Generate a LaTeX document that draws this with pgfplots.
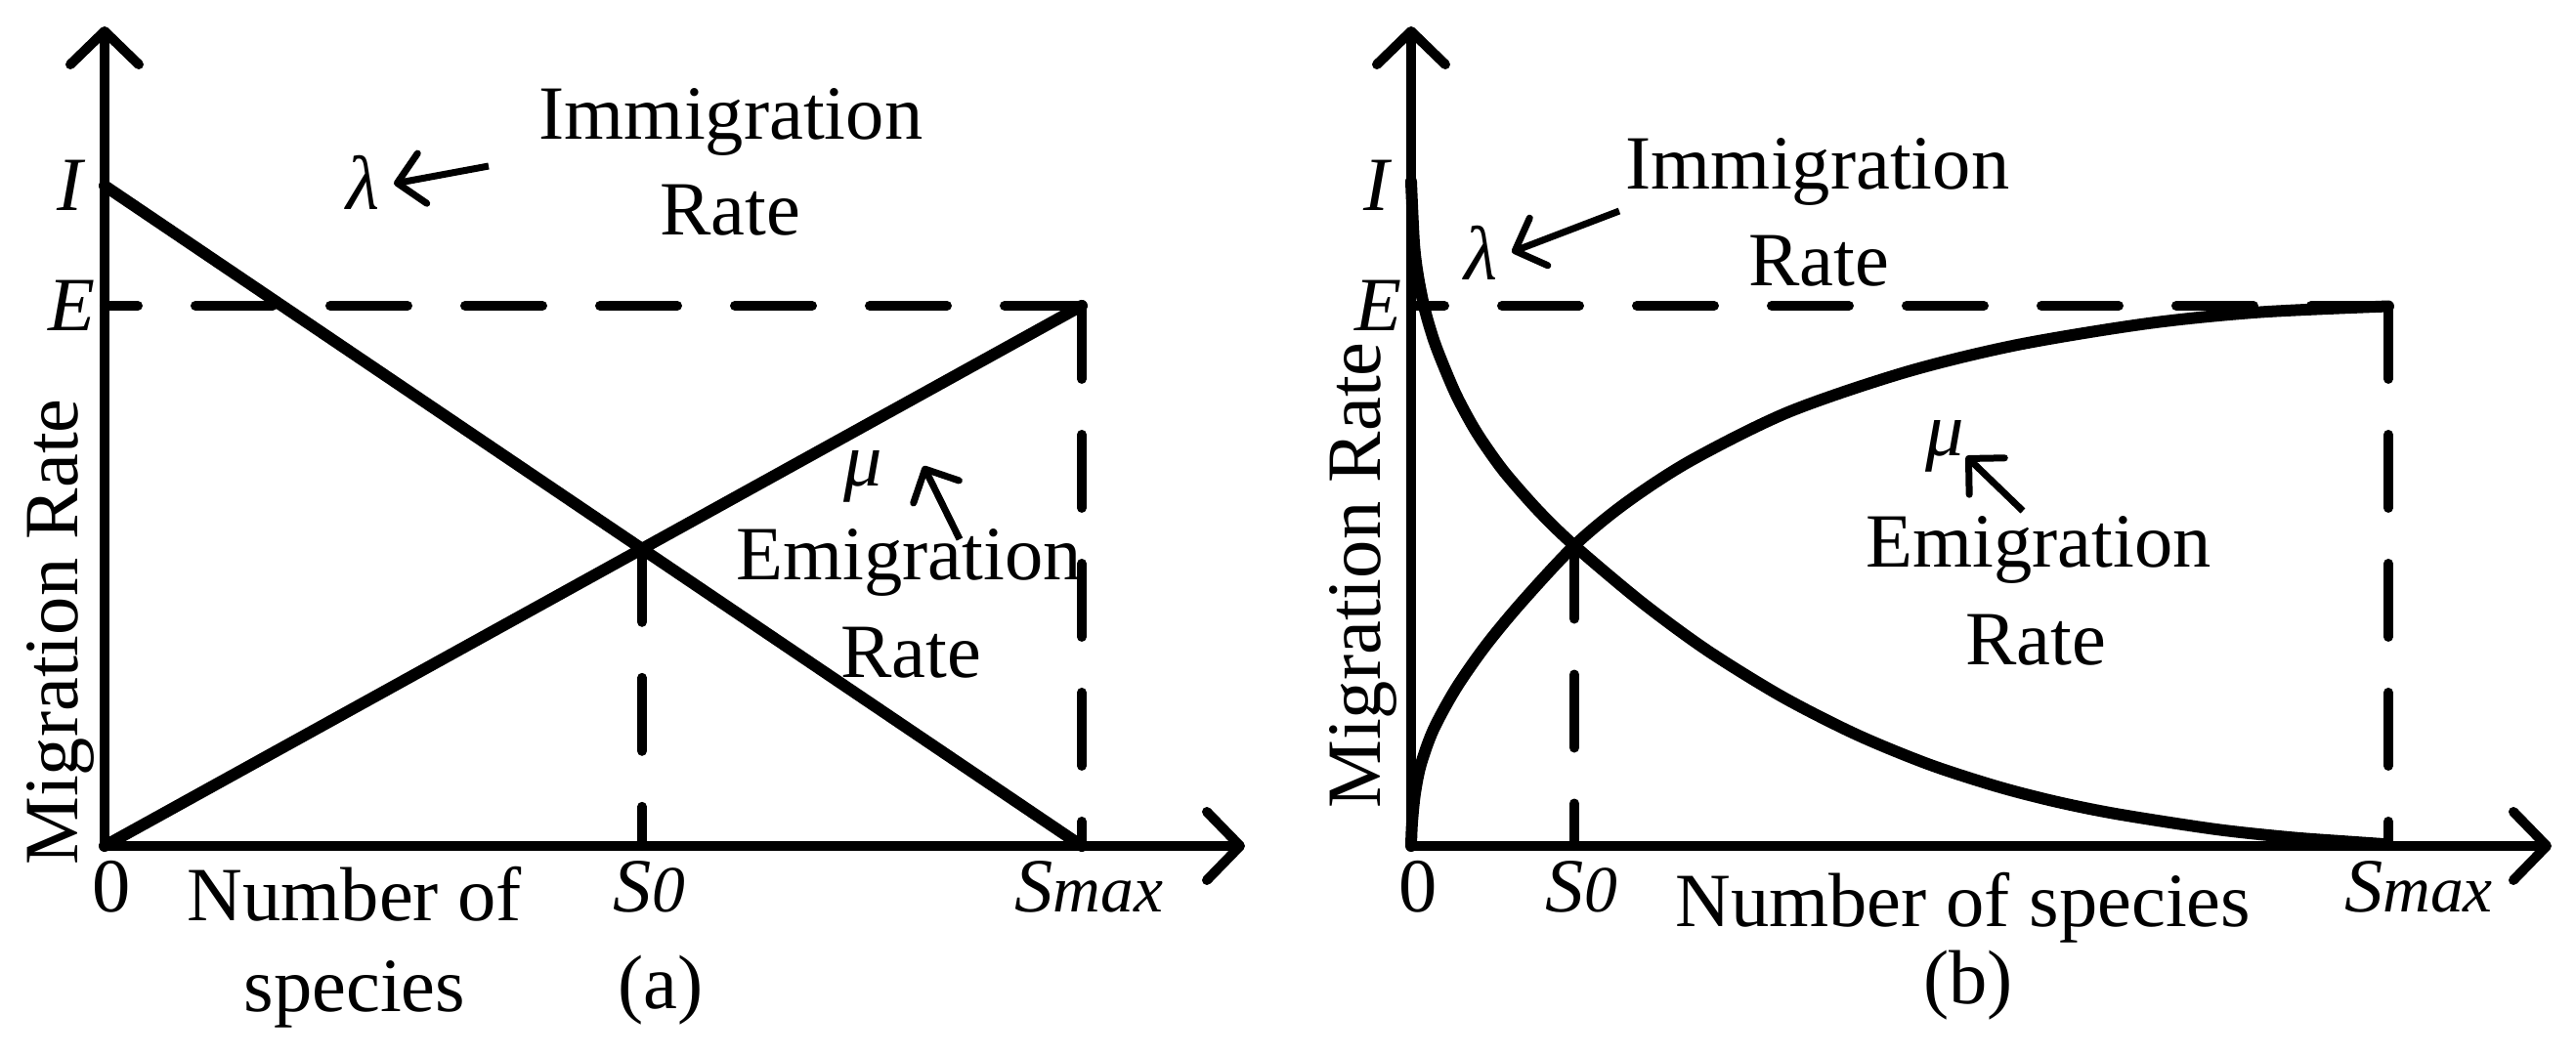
\documentclass[border=0pt]{standalone}
\usepackage{fontspec}
\setmainfont{Liberation Serif}
\usepackage{pgfplots}
\usepackage{pgfplotstable}
\pgfplotsset{compat=1.18}
\usetikzlibrary{arrows.meta}

% panel (b): immigration rate lambda (decreasing)
\pgfplotstableread{
x y
0 1.23
0.003 1.116
0.007 1.056
0.014 0.993
0.025 0.927
0.044 0.843
0.060 0.787
0.074 0.746
0.096 0.691
0.130 0.621
0.167 0.556
0.236 0.451
0.303 0.362
0.380 0.276
0.456 0.206
0.530 0.151
0.600 0.110
0.660 0.082
0.723 0.059
0.823 0.031
0.900 0.016
0.960 0.008
1.000 0.003
}\lamtab
% panel (b): emigration rate mu (increasing)
\pgfplotstableread{
x y
0 0
0.001 0.043
0.004 0.097
0.010 0.151
0.023 0.216
0.046 0.292
0.076 0.370
0.113 0.451
0.167 0.556
0.219 0.634
0.286 0.713
0.386 0.803
0.506 0.877
0.619 0.927
0.753 0.967
0.868 0.988
1.000 0.999
}\mutab

\newcommand\Sz{\textit{S{\fontsize{6.75pt}{8pt}\selectfont 0}}}
\newcommand\Smax{\textit{S{\fontsize{6.75pt}{8pt}\selectfont max}}}
\newcommand\fs{\fontsize{7.85pt}{9.8pt}\selectfont}

\begin{document}
\begin{tikzpicture}[font=\fs]
\useasboundingbox (0,0) rectangle (263.6pt,108pt);
\pgfplotsset{
  panel/.style={
    anchor=south west, scale only axis, width=116.7pt, height=83.9pt,
    xmin=0, xmax=1.167, ymin=0, ymax=1.517,
    axis lines=left, clip=false,
    axis line style={line width=1pt, line cap=round, line join=round},
    every outer x axis line/.append style={line width=1pt, line cap=round, -{Straight Barb[length=3.4pt,width=7pt,round]}},
    every outer y axis line/.append style={line width=1pt, line cap=round, -{Straight Barb[length=3.4pt,width=7pt,round]}},
    major tick length=0pt, tick style={draw=none},
    ytick={1,1.222}, yticklabels={\textit{E},\textit{I}},
    yticklabel style={anchor=center, xshift=-3.35pt, inner sep=0pt},
    xticklabel style={anchor=base, yshift=-6.7pt, xshift=0.75pt, inner sep=0pt},
    tick label style={font=\fs},
  },
  curve/.style={black, line width=1.2pt, line cap=round, line join=round, mark=none},
  hdash/.style={black, line width=1pt, line cap=round, dash pattern=on 7.9pt off 5.9pt, mark=none},
  vdash/.style={black, line width=1pt, line cap=round, dash pattern=on 7.5pt off 5.7pt, mark=none},
}
% ---------------- panel (a)
\begin{axis}[panel, at={(10.7pt,21.4pt)},
  xtick={0,0.55,1}, xticklabels={\textup{0},\Sz,\Smax}]
\addplot[curve] coordinates {(0,1.222) (1,0)};
\addplot[curve] coordinates {(0,0) (1,1)};
\addplot[hdash] coordinates {(1,1) (0,1)};
\addplot[vdash] coordinates {(1,1) (1,0)};
\addplot[vdash] coordinates {(0.55,0.55) (0.55,0)};
\end{axis}
% ---------------- panel (b)
\begin{axis}[panel, at={(144.4pt,21.4pt)},
  xtick={0,0.167,1}, xticklabels={\textup{0},\Sz,\hspace*{4.7pt}\Smax}]
\addplot[curve, smooth, tension=0.5] table {\lamtab};
\addplot[curve, smooth, tension=0.5] table {\mutab};
\addplot[hdash] coordinates {(1,1) (0,1)};
\addplot[vdash] coordinates {(1,1) (1,0)};
\addplot[vdash] coordinates {(0.167,0.556) (0.167,0)};
\end{axis}
% ---------------- annotations (a)
\node[rotate=90, anchor=base] at (7.9pt,43.3pt) {Migration Rate};
\node[anchor=base] at (74.8pt,93.8pt) {Immigration};
\node[anchor=base] at (74.7pt,84.0pt) {Rate};
\node at (37.2pt,89.3pt) {\textit{λ}};
\draw[line width=0.7pt, -{Straight Barb[length=2.6pt,width=5.2pt,round]}] (50.0pt,91.0pt) -- (40.3pt,89.2pt);
\node[anchor=base] at (88.3pt,58.3pt) {\textit{μ}};
\draw[line width=0.7pt, -{Straight Barb[length=2.6pt,width=5.2pt,round]}] (98.2pt,52.8pt) -- (94.5pt,60.3pt);
\node[anchor=base] at (93.0pt,48.7pt) {Emigration};
\node[anchor=base] at (93.2pt,38.7pt) {Rate};
\node[anchor=base] at (36.3pt,13.8pt) {Number of};
\node[anchor=base] at (36.3pt,4.5pt) {species};
\node[anchor=base] at (67.6pt,4.8pt) {(a)};
% ---------------- annotations (b)
\node[rotate=90, anchor=base] at (141.3pt,49.1pt) {Migration Rate};
\node[anchor=base] at (186.0pt,88.7pt) {Immigration};
\node[anchor=base] at (186.1pt,78.8pt) {Rate};
\node at (151.6pt,82.1pt) {\textit{λ}};
\draw[line width=0.7pt, -{Straight Barb[length=2.6pt,width=5.2pt,round]}] (165.7pt,86.4pt) -- (154.7pt,82.2pt);
\node[anchor=base] at (199.0pt,61.4pt) {\textit{μ}};
\draw[line width=0.7pt, -{Straight Barb[length=2.6pt,width=5.2pt,round]}] (207.0pt,55.7pt) -- (201.2pt,61.3pt);
\node[anchor=base] at (208.6pt,50.0pt) {Emigration};
\node[anchor=base] at (208.3pt,40.0pt) {Rate};
\node[anchor=base] at (200.9pt,13.2pt) {Number of species};
\node[anchor=base] at (201.4pt,5.3pt) {(b)};
\end{tikzpicture}
\end{document}
